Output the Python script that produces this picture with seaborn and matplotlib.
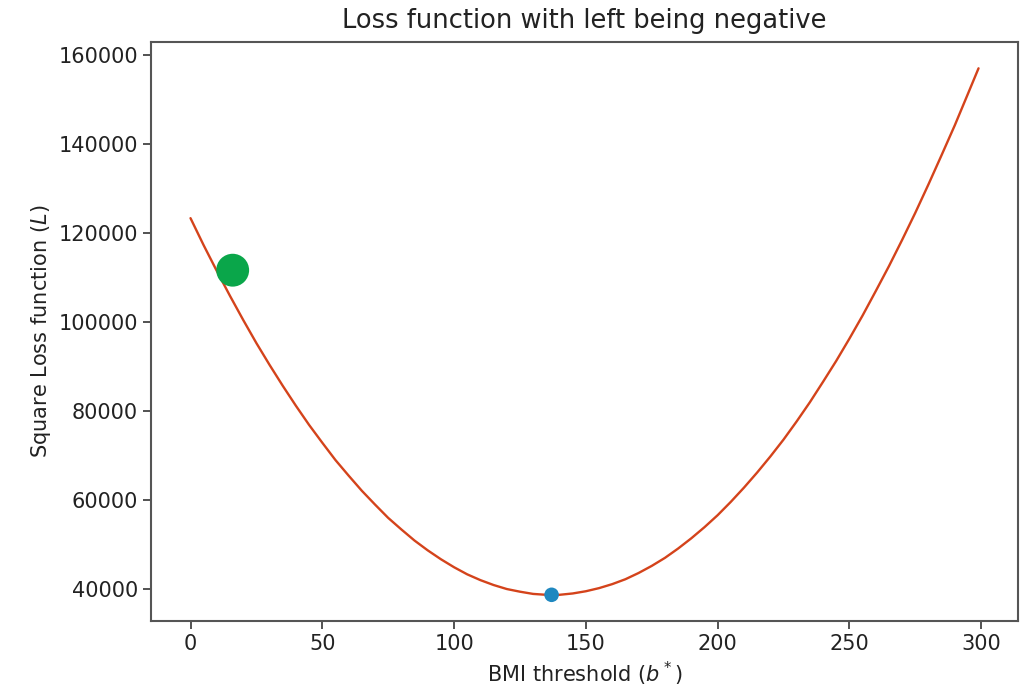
import matplotlib
matplotlib.use("Agg")
import matplotlib.pyplot as plt
import seaborn as sns
import pandas as pd

# Curve values
thresholds = [0, 5, 10, 15, 20, 25, 30, 35, 40, 45, 50, 55, 60, 65, 70, 75,
              80, 85, 90, 95, 100, 105, 110, 115, 120, 125, 130, 135, 140,
              145, 150, 155, 160, 165, 170, 175, 180, 185, 190, 195, 200, 205,
              210, 215, 220, 225, 230, 235, 240, 245, 250, 255, 260, 265, 270,
              275, 280, 285, 290, 295, 299]
loss = [123400, 117300, 111500, 105900, 100500, 95300, 90400, 85700, 81200,
        76900, 72900, 69000, 65500, 62100, 59000, 56000, 53400, 50900, 48700,
        46700, 44900, 43300, 42000, 40900, 40000, 39400, 38900, 38700, 38700,
        39000, 39500, 40200, 41100, 42200, 43600, 45200, 47000, 49100, 51400,
        53900, 56600, 59600, 62800, 66200, 69800, 73600, 77700, 82000, 86600,
        91300, 96300, 101500, 107000, 112600, 118500, 124600, 131000, 137600,
        144300, 151400, 157100]

# Highlighted points
current_x = [16]
current_y = [111700]
min_x = [137]
min_y = [38700]

sns.set_theme(style="ticks")
plt.rcParams['font.family'] = ['DejaVu Sans']

fig = plt.figure(figsize=(10.21, 6.94), dpi=100)
ax = fig.add_axes([0.148, 0.105, 0.849, 0.8345])

df = pd.DataFrame({"b": thresholds, "L": loss})
sns.lineplot(data=df, x="b", y="L", ax=ax, color="#d4431b", linewidth=1.7)
sns.scatterplot(x=min_x, y=min_y, ax=ax, color="#1f88c0", s=110,
                edgecolor="none", zorder=5)
sns.scatterplot(x=current_x, y=current_y, ax=ax, color="#0aa64a", s=560,
                edgecolor="none", zorder=5)

ax.set_yticks([40000, 60000, 80000, 100000, 120000, 140000, 160000])
ax.set_xticks([0, 50, 100, 150, 200, 250, 300])
ax.tick_params(labelsize=15, length=6, width=1.3, color="#444444",
               labelcolor="#222222")
ax.set_xlabel(r"BMI threshold ($b^*$)", fontsize=15, color="#222222")
ax.set_ylabel(r"Square Loss function ($L$)", fontsize=15, color="#222222")
ax.set_title("Loss function with left being negative", fontsize=18.5,
             color="#222222", pad=10)
for sp in ax.spines.values():
    sp.set_visible(True)
    sp.set_color("#555555")
    sp.set_linewidth(1.5)

fig.savefig("out.png", dpi=100)
